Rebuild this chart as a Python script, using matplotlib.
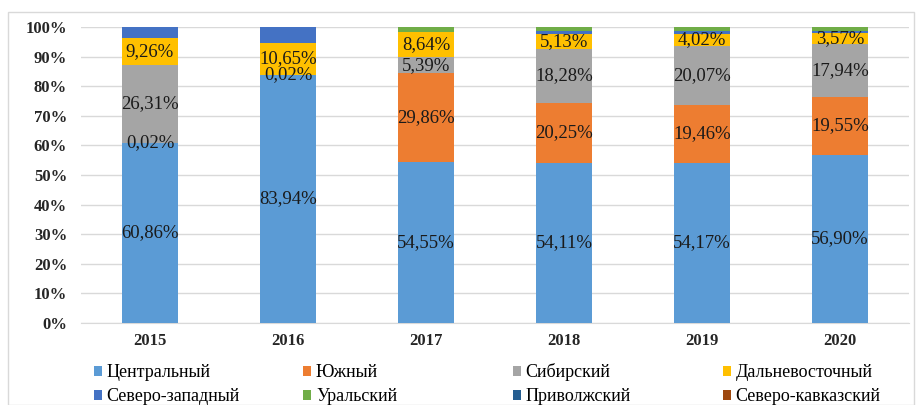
import matplotlib.pyplot as plt
from matplotlib.patches import Rectangle
import numpy as np

years = ['2015', '2016', '2017', '2018', '2019', '2020']
regions = ['Центральный', 'Южный', 'Сибирский', 'Дальневосточный',
           'Северо-западный', 'Уральский', 'Приволжский', 'Северо-кавказский']

central = [60.86, 83.94, 54.55, 54.11, 54.17, 56.90]
south = [0.02, 0.02, 29.86, 20.25, 19.46, 19.55]
siberian = [26.31, 0.0, 5.39, 18.28, 20.07, 17.94]
far_east = [9.26, 10.65, 8.64, 5.13, 4.02, 3.57]
north_west = [3.55, 5.39, 0.0, 1.0, 1.0, 0.9]
ural = [0.0, 0.0, 1.56, 1.23, 1.28, 1.14]
volga = [0.0, 0.0, 0.0, 0.0, 0.0, 0.0]
north_caucasus = [0.0, 0.0, 0.0, 0.0, 0.0, 0.0]

series = [central, south, siberian, far_east, north_west, ural, volga, north_caucasus]
colors = ['#5B9BD5', '#ED7D31', '#A5A5A5', '#FFC000',
          '#4472C4', '#70AD47', '#255E91', '#9E480E']
labelled = 4  # only first four series carry value labels

plt.rcParams['font.family'] = ['Liberation Serif', 'DejaVu Serif']

fig = plt.figure(figsize=(9.2, 4.05), dpi=100)
ax = fig.add_axes([0.088, 0.2025, 0.9, 0.7305])

x = np.arange(len(years))
bottom = np.zeros(len(years))
handles = []
for i, (vals, col, name) in enumerate(zip(series, colors, regions)):
    vals = np.array(vals)
    h = ax.bar(x, vals, 0.4, bottom=bottom, color=col, label=name, zorder=3)
    handles.append(h)
    if i < labelled:
        for xi, v, b in zip(x, vals, bottom):
            if v > 0:
                ax.text(xi, b + v / 2, f'{v:.2f}%'.replace('.', ','),
                        ha='center', va='center', fontsize=13.5,
                        color='#1a1a1a', zorder=4)
    bottom += vals

ax.set_xlim(-0.5, len(years) - 0.5)
ax.set_ylim(0, 100)
ax.set_yticks(np.arange(0, 101, 10))
ax.set_yticklabels([f'{t}%' for t in range(0, 101, 10)])
ax.set_xticks(x)
ax.set_xticklabels(years)
ax.yaxis.grid(True, color='#d9d9d9', linewidth=1, zorder=0)
for s in ['top', 'right', 'left']:
    ax.spines[s].set_visible(False)
ax.spines['bottom'].set_color('#d9d9d9')
ax.tick_params(axis='both', length=0, labelsize=12, colors='#262626')
ax.tick_params(axis='y', pad=10)
ax.tick_params(axis='x', pad=7)
for lbl in ax.get_xticklabels() + ax.get_yticklabels():
    lbl.set_fontweight('bold')

# legend laid out as 4 fixed columns of 2 rows each
col_x = [0.086, 0.314, 0.542, 0.770]
for c, cx in enumerate(col_x):
    fig.legend([handles[c], handles[c + 4]], [regions[c], regions[c + 4]],
               loc='lower left', bbox_to_anchor=(cx, -0.036),
               frameon=False, fontsize=13, handlelength=0.45, handleheight=0.45,
               handletextpad=0.25, labelspacing=0.38, borderpad=0.3)

fig.patches.append(Rectangle((0.009, 0.0), 0.985, 0.97, transform=fig.transFigure,
                             fill=False, edgecolor='#d9d9d9', linewidth=1))

fig.savefig('out.png', dpi=100)
